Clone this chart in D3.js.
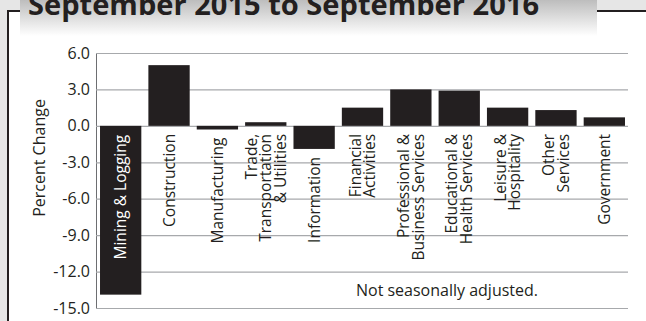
<!DOCTYPE html>
<html>
<head>
<meta charset="utf-8">
<script src="https://cdn.jsdelivr.net/npm/d3@7"></script>
<style>
  html, body { margin: 0; padding: 0; background: #ffffff; }
  svg { display: block; }
  text { font-family: "Open Sans", "Noto Sans", sans-serif; }
</style>
</head>
<body>
<svg id="chart" width="646" height="321"></svg>
<script>
// Over-the-year employment change by industry, Sep 2015 – Sep 2016
const categories = [
  ["Mining & Logging"],
  ["Construction"],
  ["Manufacturing"],
  ["Trade,", "Transportation", "& Utilities"],
  ["Information"],
  ["Financial", "Activities"],
  ["Professional &", "Business Services"],
  ["Educational &", "Health Services"],
  ["Leisure &", "Hospitality"],
  ["Other", "Services"],
  ["Government"]
];
const percentChange = [-13.9, 5.0, -0.3, 0.3, -1.9, 1.5, 3.0, 2.9, 1.5, 1.3, 0.7];
const yTicks = [6, 3, 0, -3, -6, -9, -12, -15];
const titleText = "September 2015 to September 2016";
const axisTitle = "Percent Change";
const noteText = "Not seasonally adjusted.";

const ink = "#231f20";
const svg = d3.select("#chart");
const W = 646, H = 321;

// page frame: grey margin, dark rule and shaded title tab
const defs = svg.append("defs");
const grad = defs.append("linearGradient").attr("id", "tabShade")
  .attr("x1", 0).attr("y1", 0).attr("x2", 0).attr("y2", 1);
grad.append("stop").attr("offset", "0%").attr("stop-color", "#bdbdbd");
grad.append("stop").attr("offset", "100%").attr("stop-color", "#ffffff");

svg.append("rect").attr("x", 0).attr("y", 0).attr("width", W).attr("height", 10).attr("fill", "#e6e6e6");
svg.append("rect").attr("x", 0).attr("y", 0).attr("width", 7).attr("height", H).attr("fill", "#e6e6e6");
svg.append("path")
  .attr("d", `M8,${H} V11 H20 M597,11 H${W}`)
  .attr("fill", "none").attr("stroke", ink).attr("stroke-width", 2);
svg.append("rect").attr("x", 20).attr("y", 0).attr("width", 577).attr("height", 36)
  .attr("fill", "url(#tabShade)");
svg.append("text")
  .attr("x", 28).attr("y", 15)
  .attr("font-size", 29).attr("font-weight", 700)
  .attr("textLength", 511).attr("lengthAdjust", "spacingAndGlyphs")
  .style("fill", ink)
  .text(titleText);

// plot area
const plotL = 96, plotR = 628, plotT = 53, plotB = 308;

const x = d3.scaleBand()
  .domain(d3.range(categories.length))
  .range([plotL, 629])
  .paddingInner(0.146)
  .paddingOuter(0.083);

const y = d3.scaleLinear()
  .domain([-15, 6])
  .range([plotB, plotT]);

// y axis with gridlines
const yAxis = d3.axisLeft(y)
  .tickValues(yTicks)
  .tickFormat(d => d.toFixed(1))
  .tickSizeInner(-(plotR - plotL))
  .tickSizeOuter(0)
  .tickPadding(6);

const gy = svg.append("g").attr("transform", `translate(${plotL},0)`).call(yAxis);
gy.select(".domain").attr("stroke", "#6d6e71").attr("stroke-width", 1);
gy.selectAll(".tick line").attr("stroke", "#a7a9ac").attr("stroke-width", 1.2);
gy.selectAll(".tick text")
  .attr("font-size", 16)
  .attr("font-family", "\"Open Sans\", sans-serif")
  .style("fill", ink);

svg.append("text")
  .attr("transform", `translate(45,158) rotate(-90)`)
  .attr("text-anchor", "middle")
  .attr("font-size", 16)
  .style("fill", ink)
  .text(axisTitle);

// bars
svg.append("g").selectAll("rect")
  .data(percentChange)
  .join("rect")
  .attr("x", (d, i) => x(i))
  .attr("width", x.bandwidth())
  .attr("y", d => y(Math.max(0, d)))
  .attr("height", d => Math.abs(y(d) - y(0)))
  .attr("fill", ink);

// rotated category labels, drawn inside the bar when it is long enough
const lineH = 14.5;
const labels = svg.append("g").selectAll("text")
  .data(categories)
  .join("text")
  .attr("font-size", 15.5)
  .attr("text-anchor", "end")
  .style("fill", (d, i) => percentChange[i] < -5 ? "#ffffff" : ink)
  .attr("transform", (d, i) => {
    const v = percentChange[i];
    const yTop = v < -5 ? y(0) + 9 : y(Math.min(0, v)) + 8;
    const cx = x(i) + x.bandwidth() / 2;
    return `translate(${cx},${yTop}) rotate(-90)`;
  });

labels.selectAll("tspan")
  .data(d => d.map((line, k) => ({ line, k, n: d.length })))
  .join("tspan")
  .attr("x", 0)
  .attr("y", t => 5.5 + (t.k - (t.n - 1) / 2) * lineH)
  .text(t => t.line);

svg.append("text")
  .attr("x", 447).attr("y", 296)
  .attr("text-anchor", "middle")
  .attr("font-size", 16)
  .style("fill", ink)
  .text(noteText);
</script>
</body>
</html>
